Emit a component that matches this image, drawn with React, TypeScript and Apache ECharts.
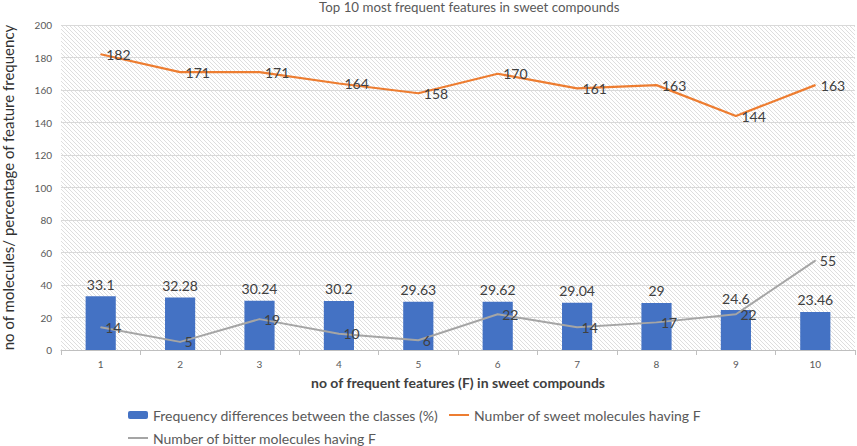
import React, { useEffect, useRef } from "react";
import * as echarts from "echarts";

const categories = ["1", "2", "3", "4", "5", "6", "7", "8", "9", "10"];
const freqDiff = [33.1, 32.28, 30.24, 30.2, 29.63, 29.62, 29.04, 29, 24.6, 23.46];
const sweetCounts = [182, 171, 171, 164, 158, 170, 161, 163, 144, 163];
const bitterCounts = [14, 5, 19, 10, 6, 22, 14, 17, 22, 55];
const yMin = 0;
const yMax = 200;
const yInterval = 20;

const seriesNames = [
  "Frequency differences between the classes (%)",
  "Number of sweet molecules having F",
  "Number of bitter molecules having F",
];

const FONT = "Lato, 'Liberation Sans', sans-serif";
const LINE_ICON = "path://M0,0 L20,0 L20,2 L0,2 Z";

function makeHatch(): string {
  const c = document.createElement("canvas");
  c.width = 4;
  c.height = 4;
  const ctx = c.getContext("2d");
  if (ctx) {
    ctx.fillStyle = "#ffffff";
    ctx.fillRect(0, 0, 4, 4);
    ctx.strokeStyle = "#dedede";
    ctx.lineWidth = 1;
    ctx.beginPath();
    ctx.moveTo(-1, -1);
    ctx.lineTo(5, 5);
    ctx.moveTo(-1, 3);
    ctx.lineTo(1, 5);
    ctx.moveTo(3, -1);
    ctx.lineTo(5, 1);
    ctx.stroke();
  }
  return c.toDataURL();
}

export default function App() {
  const ref = useRef<HTMLDivElement>(null);
  useEffect(() => {
    if (!ref.current) return;
    const chart = echarts.init(ref.current, undefined, { renderer: "svg" });
    const hatch = makeHatch();
    const labelStyle = { fontSize: 14, color: "#404040", fontFamily: FONT };
    const legendText = { fontSize: 14, lineHeight: 14, color: "#595959", fontFamily: FONT };
    chart.setOption({
      animation: false,
      backgroundColor: "#ffffff",
      textStyle: { fontFamily: FONT },
      title: {
        text: "Top 10 most frequent features in sweet compounds",
        left: 314,
        top: -5,
        textStyle: { fontSize: 13.3, fontWeight: "normal", color: "#595959", fontFamily: FONT },
      },
      grid: {
        left: 61,
        right: 2,
        top: 25,
        bottom: 96,
        containLabel: false,
        outerBoundsMode: "none",
        show: true,
        borderWidth: 0,
        backgroundColor: { image: hatch, repeat: "repeat" },
      },
      legend: [
        {
          left: 128,
          top: 408,
          padding: 0,
          itemGap: 11,
          itemWidth: 20,
          itemHeight: 8,
          symbolKeepAspect: true,
          textStyle: legendText,
          data: [
            { name: seriesNames[0] },
            { name: seriesNames[1], icon: LINE_ICON },
          ],
        },
        {
          left: 128,
          top: 431,
          padding: 0,
          itemWidth: 20,
          itemHeight: 8,
          symbolKeepAspect: true,
          textStyle: legendText,
          data: [{ name: seriesNames[2], icon: LINE_ICON }],
        },
      ],
      xAxis: {
        type: "category",
        data: categories,
        name: "no of frequent features (F) in sweet compounds",
        nameLocation: "middle",
        nameGap: 25,
        nameTextStyle: { fontSize: 14, fontWeight: "bold", color: "#404040", fontFamily: FONT },
        axisLine: { lineStyle: { color: "#bfbfbf" } },
        axisTick: { show: true, length: 5, lineStyle: { color: "#bfbfbf" } },
        axisLabel: { fontSize: 10, color: "#595959", margin: 9 },
      },
      yAxis: {
        type: "value",
        min: yMin,
        max: yMax,
        interval: yInterval,
        name: "no of molecules/ percentage of feature frequency",
        nameLocation: "middle",
        nameGap: 46,
        nameTextStyle: { fontSize: 15, fontWeight: "normal", color: "#303030", fontFamily: FONT },
        axisLine: { show: false },
        axisTick: { show: false },
        axisLabel: { fontSize: 10, color: "#595959", margin: 9 },
        splitLine: { lineStyle: { color: "#d9d9d9", width: 1 } },
      },
      series: [
        {
          name: seriesNames[0],
          type: "bar",
          data: freqDiff,
          barWidth: "38%",
          itemStyle: { color: "#4472C4" },
          label: { show: true, position: "top", distance: 5, ...labelStyle },
        },
        {
          name: seriesNames[1],
          type: "line",
          data: sweetCounts,
          symbol: "circle",
          symbolSize: 1,
          showSymbol: true,
          lineStyle: { color: "#ED7D31", width: 2.25 },
          itemStyle: { color: "#ED7D31" },
          label: { show: true, position: "right", distance: 5, ...labelStyle },
        },
        {
          name: seriesNames[2],
          type: "line",
          data: bitterCounts,
          symbol: "circle",
          symbolSize: 1,
          showSymbol: true,
          lineStyle: { color: "#A5A5A5", width: 2 },
          itemStyle: { color: "#A5A5A5" },
          label: { show: true, position: "right", distance: 4, ...labelStyle },
        },
      ],
    });
    return () => chart.dispose();
  }, []);
  return (
    <div
      ref={ref}
      style={{ position: "fixed", left: 0, top: 0, width: 857, height: 446 }}
    />
  );
}
